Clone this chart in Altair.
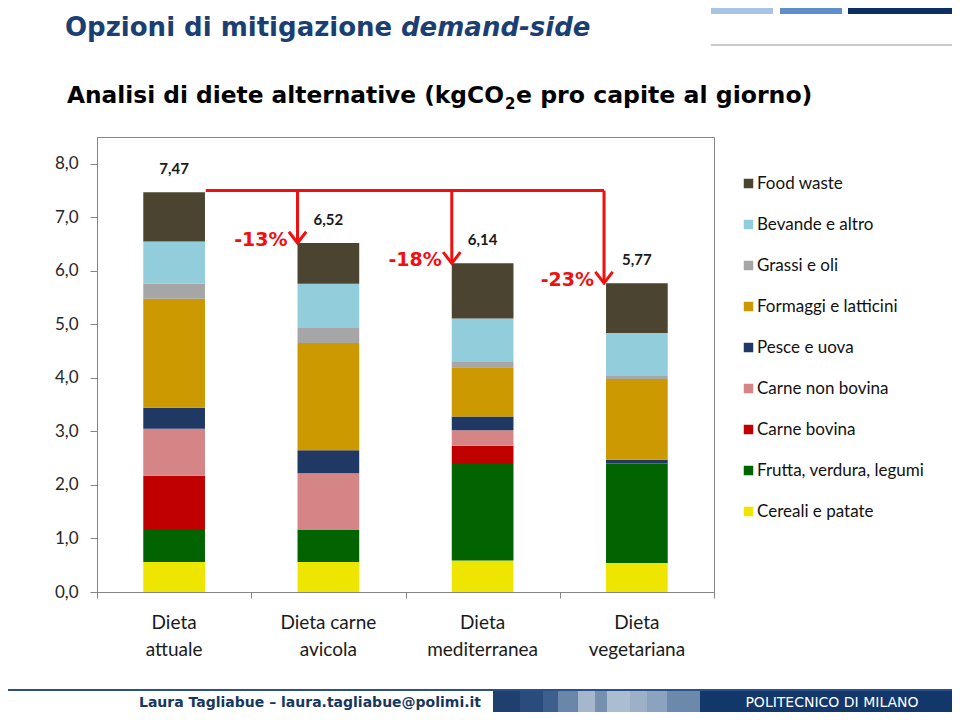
import altair as alt
import pandas as pd

# ---------------- data ----------------
diets = ["Dieta attuale", "Dieta carne avicola", "Dieta mediterranea", "Dieta vegetariana"]
diet_labels = ["Dieta\nattuale", "Dieta carne\navicola", "Dieta\nmediterranea", "Dieta\nvegetariana"]

categories = ["Cereali e patate", "Frutta, verdura, legumi", "Carne bovina", "Carne non bovina",
              "Pesce e uova", "Formaggi e latticini", "Grassi e oli", "Bevande e altro", "Food waste"]
colors = ["#EEE600", "#016401", "#C00000", "#D58585", "#1F3864", "#CC9900", "#A6A6A6", "#92CDDC", "#4A4430"]

cereali = [0.56, 0.56, 0.59, 0.54]
frutta = [0.60, 0.60, 1.80, 1.86]
carne_bovina = [1.01, 0.00, 0.34, 0.00]
carne_non_bovina = [0.88, 1.06, 0.29, 0.00]
pesce = [0.39, 0.43, 0.26, 0.07]
formaggi = [2.04, 2.00, 0.92, 1.51]
grassi = [0.28, 0.28, 0.11, 0.07]
bevande = [0.79, 0.83, 0.80, 0.79]
food_waste = [0.92, 0.76, 1.03, 0.93]

reductions = ["-13%", "-18%", "-23%"]
y_ticks = [0, 1, 2, 3, 4, 5, 6, 7, 8]

series = [cereali, frutta, carne_bovina, carne_non_bovina, pesce, formaggi, grassi, bevande, food_waste]

# ---------------- tables ----------------
rows = []
totals = []
for i, d in enumerate(diets):
    acc = 0.0
    for c, s in zip(categories, series):
        v = s[i]
        if v > 0:
            rows.append({"diet": d, "cat": c, "pos": i + 0.5, "y0": acc, "y1": acc + v})
        acc += v
    totals.append(round(acc, 2))
df = pd.DataFrame(rows)
df["x0"] = df["pos"] - 0.2
df["x1"] = df["pos"] + 0.2

tot = pd.DataFrame({
    "diet": diets,
    "pos": [i + 0.5 for i in range(len(diets))],
    "total": totals,
    "label": [f"{t:.2f}".replace(".", ",") for t in totals],
    "xlabel": diet_labels,
})

# reduction arrows from the top of the first bar to the others
line_y = 7.5
arr = pd.DataFrame({
    "ax": [tot["pos"][1] - 0.2, tot["pos"][2] - 0.2, tot["pos"][3] - 0.213],
    "top": [line_y] * 3,
    "total": totals[1:],
    "txt": reductions,
})
hline = pd.DataFrame({"x0": [tot["pos"][0] + 0.205], "x1": [arr["ax"].iloc[-1]], "y": [line_y]})

W, H = 617, 455
PX0, PY0 = 97, 137  # page position of plot origin
RED = "#F01010"

xs = alt.Scale(domain=[0, 4], nice=False, zero=False)
ys = alt.Scale(domain=[0, 8.5], nice=False)

legend_order = categories[::-1]
legend_colors = colors[::-1]

bars = alt.Chart(df).mark_rect().encode(
    x=alt.X("x0:Q", scale=xs, title=None,
            axis=alt.Axis(values=[0, 1, 2, 3, 4], labels=False, grid=False, tickSize=6,
                          tickColor="#868686", domainColor="#868686")),
    x2="x1:Q",
    y=alt.Y("y0:Q", scale=ys, title=None,
            axis=alt.Axis(values=y_ticks, grid=False, tickSize=7, tickColor="#868686",
                          domainColor="#868686", labelFont="Lato", labelFontSize=17,
                          labelColor="#262626", labelPadding=12,
                          labelExpr="replace(format(datum.value, '.1f'), '.', ',')")),
    y2="y1:Q",
    color=alt.Color("cat:N", scale=alt.Scale(domain=legend_order, range=legend_colors),
                    legend=alt.Legend(orient="none", legendX=643, legendY=38, title=None,
                                      symbolType="square", symbolSize=90, symbolStrokeWidth=0,
                                      labelFont="Lato", labelFontSize=17, labelColor="#111111",
                                      rowPadding=23, labelOffset=0, labelLimit=300)),
)

tot_text = alt.Chart(tot).mark_text(font="Lato", fontSize=15, fontWeight="bold", color="#1a1a1a",
                                    baseline="middle", dy=-23).encode(
    x=alt.X("pos:Q", scale=xs), y=alt.Y("total:Q", scale=ys), text="label:N")

xlab = alt.Chart(tot).mark_text(font="Lato", fontSize=19, color="#1a1a1a", lineBreak="\n",
                                lineHeight=27, baseline="alphabetic").encode(
    x=alt.X("pos:Q", scale=xs), y=alt.value(H + 37), text="xlabel:N")

h_rule = alt.Chart(hline).mark_rule(color=RED, strokeWidth=3).encode(
    x=alt.X("x0:Q", scale=xs), x2="x1:Q", y=alt.Y("y:Q", scale=ys))

v_rule = alt.Chart(arr).mark_rule(color=RED, strokeWidth=3).encode(
    x=alt.X("ax:Q", scale=xs), y=alt.Y("top:Q", scale=ys), y2="total:Q")

heads = alt.Chart(arr).mark_point(shape="M -1 -1.3 L 0 0 L 1 -1.3", filled=False, color=RED,
                                  strokeWidth=3, size=300, opacity=1).encode(
    x=alt.X("ax:Q", scale=xs), y=alt.Y("total:Q", scale=ys))

red_txt = alt.Chart(arr).mark_text(font="DejaVu Sans", fontSize=19, fontWeight="bold", color=RED,
                                   align="right", baseline="middle", dx=-10, dy=-3).encode(
    x=alt.X("ax:Q", scale=xs), y=alt.Y("total:Q", scale=ys), text="txt:N")

# ---------------- page decorations ----------------
one = pd.DataFrame({"k": [0]})


def rect(x0, x1, y0, y1, color):
    return alt.Chart(one).mark_rect(color=color).encode(
        x=alt.value(x0 - PX0), x2=alt.value(x1 - PX0), y=alt.value(y0 - PY0), y2=alt.value(y1 - PY0))


def text(s, x, y, size, color, weight="normal", style="normal", align="left", font="DejaVu Sans",
         baseline="alphabetic"):
    return alt.Chart(one).mark_text(text=s, font=font, fontSize=size, fontWeight=weight, fontStyle=style,
                                    color=color, align=align, baseline=baseline).encode(
        x=alt.value(x - PX0), y=alt.value(y - PY0))


decor = [
    rect(711, 773, 0, 14, "#A9C4E2"),
    rect(780, 842, 0, 14, "#5E8FCB"),
    rect(848, 960, 0, 14, "#0B2F63"),
    rect(711, 960, 44, 46, "#CACACA"),
    text("Opzioni di mitigazione", 65, 36, 26, "#1B3F73", weight="bold"),
    text("demand-side", 401, 36, 26, "#1B3F73", weight="bold", style="italic"),
    text("Analisi di diete alternative (kgCO", 67, 103, 23.3, "#000000", weight="bold"),
    text("2", 505, 109, 15, "#000000", weight="bold"),
    text("e pro capite al giorno)", 516, 103, 23.6, "#000000", weight="bold"),
    rect(0, 960, 689, 691, "#2D5088"),
    rect(493, 520, 691, 720, "#1F3F6E"),
    rect(520, 543, 691, 720, "#2A4C7C"),
    rect(543, 558, 691, 720, "#3D5F8C"),
    rect(558, 578, 691, 720, "#6A87AA"),
    rect(578, 595, 691, 720, "#A4B7CC"),
    rect(595, 607, 691, 720, "#7690B0"),
    rect(607, 630, 691, 720, "#ABBDD1"),
    rect(630, 647, 691, 720, "#9CB1C8"),
    rect(647, 667, 691, 720, "#8CA3BF"),
    rect(667, 700, 691, 720, "#6C88AA"),
    rect(700, 960, 691, 720, "#12376A"),
    text("Laura Tagliabue  \u2013 laura.tagliabue@polimi.it", 310, 703, 14, "#17375E", weight="bold",
         align="center", baseline="middle"),
    text("POLITECNICO DI MILANO", 832, 703, 14, "#FFFFFF", align="center", baseline="middle"),
]

chart = alt.layer(bars, tot_text, xlab, h_rule, v_rule, heads, red_txt, *decor).properties(
    width=W, height=H,
    autosize=alt.AutoSizeParams(type="none"),
    padding={"left": PX0 - 8, "top": PY0 - 8, "right": 944 - (PX0 - 8) - W, "bottom": 704 - (PY0 - 8) - H},
    background="white",
).configure_view(stroke="#868686", strokeWidth=1)

chart.save("out.html", embed_options={"renderer": "svg", "actions": False})
